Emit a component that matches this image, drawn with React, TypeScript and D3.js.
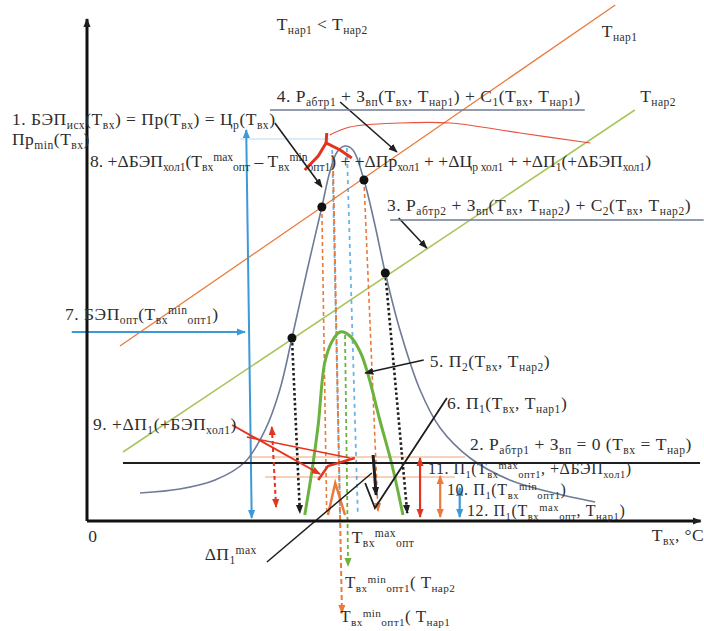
import React from "react";
import * as d3 from "d3";

const W = 704;
const H = 631;

type P = [number, number];

// Cost curve БЭП(Tвх) — bell shaped
const bellCurve: P[] = [
  [8.7, 5.6], [15.2, 6.4], [21.0, 8.2], [25.9, 11.8], [29.2, 18.2], [31.6, 26.2],
  [33.6, 36.6], [36.1, 50.2], [38.5, 62.8], [39.8, 69.8], [41.0, 73.8], [42.3, 75.0],
  [43.6, 74.2], [45.4, 68.2], [47.2, 59.2], [48.9, 49.6], [51.3, 38.2], [54.6, 26.2],
  [57.9, 18.6], [62.8, 12.6], [69.3, 8.2], [75.9, 5.8], [83.3, 3.8],
];

// Profit curve П2(Tвх, Tнар2)
const profitCurve2: P[] = [
  [35.7, 1.2], [36.9, 10.2], [37.9, 19.2], [39.0, 31.8], [40.3, 36.2], [41.5, 37.8],
  [43.1, 37.0], [44.8, 33.8], [46.1, 29.2], [48.0, 20.2], [50.0, 11.2], [51.8, 1.2],
];

// Revenue lines for the two outdoor temperatures
const revenueLine1: P[] = [[5.4, 35.0], [86.6, 103.2]];
const revenueLine2: P[] = [[5.9, 13.8], [89.8, 82.2]];
// Zero-profit level (Tвх = Tнар)
const zeroLevel: P[] = [[5.9, 11.6], [100.5, 11.6]];
// Upper cost curve 4
const upperCurve: P[] = [[39.8, 77.2], [43.1, 78.8], [51.3, 79.6], [59.5, 79.6], [71.0, 77.6], [82.5, 75.6]];
// Cooling increment branch (bold red)
const coolingBranch: P[] = [[35.7, 70.2], [37.9, 73.0], [39.2, 75.6], [41.5, 74.2], [43.4, 72.6]];
const coolingSpike: P[] = [[39.2, 75.6], [39.3, 77.6]];

// Intersection points of revenue lines with the cost curve
const crossPoints: P[] = [[33.6, 36.6], [38.5, 62.8], [45.4, 68.2], [48.9, 49.6]];

// Projections down to the temperature axis
const dropBlack1: P[] = [[33.6, 36.6], [34.9, 1.6]];
const dropBlack2: P[] = [[48.9, 49.6], [52.5, 1.6]];
const dropOrange1: P[] = [[38.5, 62.8], [39.3, 1.2]];
const dropOrange2: P[] = [[40.3, 73.2], [41.8, -18.4]];
const dropOrange3: P[] = [[45.4, 68.2], [47.7, 2.0]];
const dropBlue1: P[] = [[40.2, 74.2], [41.5, 1.2]];
const dropBlue2: P[] = [[42.6, 74.6], [44.4, 1.2]];
const dropGreen: P[] = [[42.3, 37.2], [42.8, -9.0]];

// Optimal cost level (7)
const optVertical: P[] = [[26.1, 78.2], [27.0, 0.6]];
const optHorizontal: P[] = [[-2.5, 37.8], [25.9, 37.8]];
const minPriceLevel: P[] = [[25.1, 76.4], [39.8, 76.4]];

// Cooling increments near the bottom (9)
const redLine1: P[] = [[23.8, 19.2], [38.2, 9.4]];
const redLine2: P[] = [[26.2, 16.8], [43.1, 12.6]];
const redDrop: P[] = [[30.3, 18.8], [31.0, 2.8]];
const redKink: P[] = [[37.9, 8.2], [39.5, 11.0], [43.9, 12.6]];
const orangeLevel1: P[] = [[26.7, 12.8], [62.0, 12.8]];
const orangeLevel2: P[] = [[29.2, 8.8], [60.3, 8.8]];
const orangeFork: P[] = [[39.5, 1.2], [40.7, 7.6], [42.3, 1.2]];

// Profit П1 (6) and its maximum increment
const profitLine1: P[] = [[45.6, 7.6], [47.2, 2.6], [59.0, 24.6]];
const maxLeader: P[] = [[29.5, -8.2], [46.7, 9.6]];
const maxArrow: P[] = [[46.9, 13.2], [47.4, 5.2]];

// Profit levels 11, 10, 12
const arrow11: P[] = [[54.6, 12.6], [54.6, 0.8]];
const arrow10: P[] = [[57.9, 9.0], [57.9, 0.8]];
const arrow12: P[] = [[61.1, 6.6], [61.1, 0.8]];

// Leaders from captions
const leader1: P[] = [[30.8, 79.6], [38.5, 66.8]];
const leader4: P[] = [[41.5, 83.8], [50.8, 73.8]];
const leader3: P[] = [[51.1, 60.6], [55.7, 54.6]];
const leader5: P[] = [[55.2, 32.2], [45.6, 29.6]];
const underline4: P[] = [[30.0, 82.2], [81.6, 82.2]];
const underline3: P[] = [[49.7, 60.2], [101.1, 60.2]];

// Captions
const captionTexts: string[] = [
  "T_{нар1} < T_{нар2}",
  "T_{нар1}",
  "T_{нар2}",
  "4. P_{абтр1} + З_{вп}(T_{вх}, T_{нар1}) + C_{1}(T_{вх}, T_{нар1})",
  "1. БЭП_{исх}(T_{вх}) = Пр(T_{вх}) = Ц_{р}(T_{вх})",
  "Пр_{min}(T_{вх})",
  "8. +ΔБЭП_{хол1}(T_{вх}^{max}_{опт} – T_{вх}^{min}_{опт1}) + +ΔПр_{хол1} + +ΔЦ_{р хол1} + +ΔП_{1}(+ΔБЭП_{хол1})",
  "3. P_{абтр2} + З_{вп}(T_{вх}, T_{нар2}) + C_{2}(T_{вх}, T_{нар2})",
  "7. БЭП_{опт}(T_{вх}^{min}_{опт1})",
  "5. П_{2}(T_{вх}, T_{нар2})",
  "6. П_{1}(T_{вх}, T_{нар1})",
  "9. +ΔП_{1}(+БЭП_{хол1})",
  "2. P_{абтр1} + З_{вп} = 0 (T_{вх} = T_{нар})",
  "11. П_{1}(T_{вх}^{max}_{опт1}, +ΔБЭП_{хол1})",
  "10. П_{1}(T_{вх}^{min}_{опт1})",
  "12. П_{1}(T_{вх}^{max}_{опт}, T_{нар1})",
  "0",
  "ΔП_{1}^{max}",
  "T_{вх}^{max}_{опт}",
  "T_{вх}^{min}_{опт1}( T_{нар2}",
  "T_{вх}^{min}_{опт1}( T_{нар1}",
  "T_{вх}, °C",
];
const captionX: number[] = [31.1, 84.4, 90.7, 31.1, -12.3, -12.3, 0.5, 49.2, -3.6, 56.2, 59.0, 1.0, 62.8, 55.9, 59.0, 62.3, 0.2, 19.3, 43.4, 42.3, 41.5, 92.6];
const captionY: number[] = [98.2, 96.8, 83.8, 83.8, 79.2, 75.2, 70.8, 62.0, 40.2, 30.8, 22.4, 18.2, 14.2, 9.4, 5.2, 1.0, -4.2, -7.8, -4.4, -13.4, -20.2, -4.0];
const captionTracking: number[] = [0.4, 0.4, 0.4, 0.5, 0.5, 0.5, 0, 0.5, 0.5, 0.5, 0.5, 0.5, 0.5, 0.5, 0.6, 0.6, 0, 0.4, 0.4, 0.4, 0.4, 0.4];
const captionSize: number[] = [17.5, 17.5, 17.5, 17.5, 17.5, 17.5, 17.5, 17.5, 17.5, 17.5, 17.5, 17.5, 17.5, 16, 16, 16, 17.5, 17.5, 17.5, 17, 17, 17.5];

const x = d3.scaleLinear().domain([0, 100]).range([87, 697]);
const y = d3.scaleLinear().domain([0, 100]).range([521, 21]);

const straight = d3.line<P>().x((d) => x(d[0])).y((d) => y(d[1]));
const smooth = d3.line<P>().x((d) => x(d[0])).y((d) => y(d[1])).curve(d3.curveCatmullRom.alpha(0.5));

const COLORS: Record<string, string> = {
  black: "#1e1e1e",
  bell: "#6f7b95",
  orange: "#ea7a3c",
  green: "#a9c65e",
  green2: "#6cb23f",
  blue: "#3d9ad8",
  lightblue: "#a9d2ee",
  red: "#e2341f",
};

type Seg = {
  pts: P[];
  color: string;
  w: number;
  dash?: string;
  end?: boolean;
  start?: boolean;
  smooth?: boolean;
  opacity?: number;
};

const segments: Seg[] = [
  { pts: minPriceLevel, color: "lightblue", w: 1.2, opacity: 0.8 },
  { pts: revenueLine2, color: "green", w: 1.6 },
  { pts: revenueLine1, color: "orange", w: 1.3 },
  { pts: upperCurve, color: "red", w: 1.2, smooth: true, opacity: 0.85 },
  { pts: orangeLevel1, color: "orange", w: 1, opacity: 0.7 },
  { pts: orangeLevel2, color: "orange", w: 1, opacity: 0.7 },
  { pts: optVertical, color: "blue", w: 2, start: true, end: true },
  { pts: optHorizontal, color: "blue", w: 2, end: true },
  { pts: dropBlue1, color: "blue", w: 1.8, dash: "4 4", opacity: 0.75 },
  { pts: dropBlue2, color: "blue", w: 1.8, dash: "4 4", opacity: 0.75 },
  { pts: dropOrange1, color: "orange", w: 1.6, dash: "4 3" },
  { pts: dropOrange2, color: "orange", w: 2, dash: "5 3", end: true },
  { pts: dropOrange3, color: "orange", w: 1.6, dash: "4 3", end: true },
  { pts: dropGreen, color: "green2", w: 1.8, dash: "4 3", end: true },
  { pts: dropBlack1, color: "black", w: 2.6, dash: "2.5 2.5", end: true },
  { pts: dropBlack2, color: "black", w: 2.6, dash: "2.5 2.5", end: true },
  { pts: bellCurve, color: "bell", w: 1.6, smooth: true },
  { pts: profitCurve2, color: "green2", w: 3, smooth: true },
  { pts: zeroLevel, color: "black", w: 2 },
  { pts: coolingBranch, color: "red", w: 3 },
  { pts: coolingSpike, color: "red", w: 3 },
  { pts: redLine1, color: "red", w: 2, end: true },
  { pts: redLine2, color: "red", w: 1.6 },
  { pts: redDrop, color: "red", w: 2, dash: "4 3", start: true, end: true },
  { pts: redKink, color: "red", w: 2.5 },
  { pts: orangeFork, color: "orange", w: 2.5 },
  { pts: profitLine1, color: "black", w: 1.8 },
  { pts: maxLeader, color: "black", w: 1.5 },
  { pts: maxArrow, color: "black", w: 3, end: true },
  { pts: arrow11, color: "red", w: 2.2, start: true, end: true },
  { pts: arrow10, color: "orange", w: 2.2, start: true, end: true },
  { pts: arrow12, color: "blue", w: 2.2, start: true, end: true },
  { pts: leader1, color: "black", w: 1.6, end: true },
  { pts: leader4, color: "black", w: 1.6, end: true },
  { pts: leader3, color: "black", w: 1.6, end: true },
  { pts: leader5, color: "black", w: 1.6, end: true },
  { pts: underline4, color: "bell", w: 1.6 },
  { pts: underline3, color: "bell", w: 1.6 },
];

type Part = { t: string; k: "n" | "sub" | "sup" };

function parseRich(s: string): Part[] {
  const parts: Part[] = [];
  const re = /([_^])\{([^}]*)\}/g;
  let last = 0;
  let m: RegExpExecArray | null;
  while ((m = re.exec(s))) {
    if (m.index > last) parts.push({ t: s.slice(last, m.index), k: "n" });
    parts.push({ t: m[2], k: m[1] === "_" ? "sub" : "sup" });
    last = re.lastIndex;
  }
  if (last < s.length) parts.push({ t: s.slice(last), k: "n" });
  return parts;
}

function RichText({ text, px, py, size, tracking }: { text: string; px: number; py: number; size: number; tracking: number }) {
  const parts = parseRich(text);
  const offs = { n: 0, sub: size * 0.22, sup: -size * 0.32 };
  let cur = 0;
  return (
    <text x={px} y={py} fontSize={size} fill="#2e2e2e" letterSpacing={tracking}
      style={{ whiteSpace: "pre" }}
      fontFamily="'Liberation Serif', 'Times New Roman', serif">
      {parts.map((p, i) => {
        const target = offs[p.k];
        const dy = target - cur;
        cur = target;
        return (
          <tspan key={i} dy={dy} fontSize={p.k === "n" ? size : size * 0.66}>
            {p.t}
          </tspan>
        );
      })}
    </text>
  );
}

export default function App() {
  const markerColors = Object.keys(COLORS);
  return (
    <svg width={W} height={H} viewBox={`0 0 ${W} ${H}`}
      style={{ position: "absolute", left: 0, top: 0, background: "#fff" }}>
      <defs>
        {markerColors.map((c) => (
          <marker key={c} id={`arr-${c}`} viewBox="0 0 10 10" refX="9" refY="5"
            markerWidth="9" markerHeight="9" markerUnits="userSpaceOnUse" orient="auto-start-reverse">
            <path d="M0,1 L10,5 L0,9 z" fill={COLORS[c]} />
          </marker>
        ))}
      </defs>

      {segments.map((s, i) => (
        <path key={i}
          d={(s.smooth ? smooth : straight)(s.pts) || ""}
          fill="none"
          stroke={COLORS[s.color]}
          strokeWidth={s.w}
          strokeDasharray={s.dash}
          strokeOpacity={s.opacity ?? 1}
          markerEnd={s.end ? `url(#arr-${s.color})` : undefined}
          markerStart={s.start ? `url(#arr-${s.color})` : undefined}
        />
      ))}

      {crossPoints.map((d, i) => (
        <circle key={i} cx={x(d[0])} cy={y(d[1])} r={4.5} fill="#111" />
      ))}

      {/* Axes */}
      <line x1={x(0)} y1={y(0)} x2={x(0)} y2={y(100.4)} stroke="#111" strokeWidth={3}
        markerEnd="url(#arr-black)" />
      <line x1={x(0)} y1={y(0)} x2={x(100.6)} y2={y(0)} stroke="#111" strokeWidth={3}
        markerEnd="url(#arr-black)" />

      {captionTexts.map((t, i) => (
        <RichText key={i} text={t} px={x(captionX[i])} py={y(captionY[i])}
          size={captionSize[i]} tracking={captionTracking[i]} />
      ))}
    </svg>
  );
}
